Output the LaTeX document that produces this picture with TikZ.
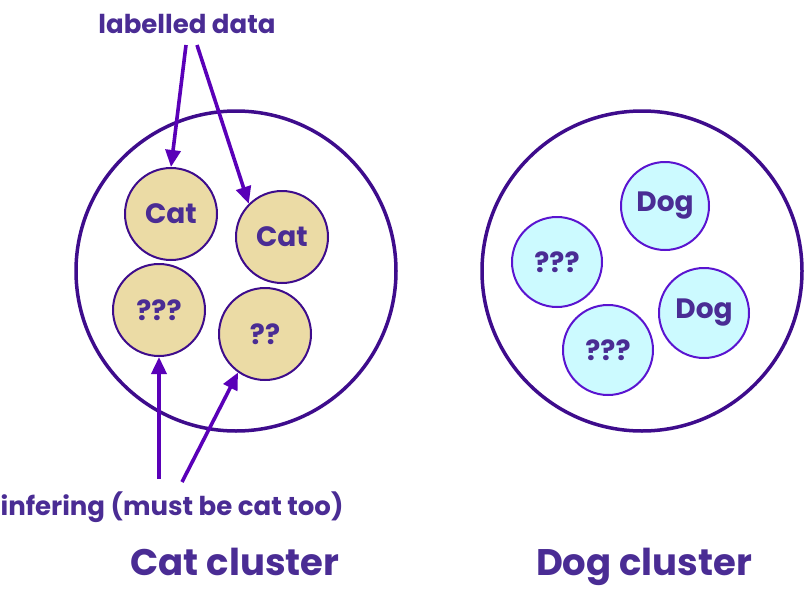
\documentclass[tikz,border=0pt]{standalone}
\usepackage{fontspec}
\setmainfont{Poppins}
\usetikzlibrary{arrows.meta}
\definecolor{txt}{HTML}{4A2C94}
\definecolor{arr}{HTML}{5A00B8}
\definecolor{ring}{HTML}{3E0C8C}
\definecolor{catfill}{HTML}{EBDBA5}
\definecolor{dogfill}{HTML}{CCFAFF}
\definecolor{dogring}{HTML}{5A14D0}
\tikzset{
  big/.style={circle, draw=ring, line width=3.5pt, minimum size=320pt, inner sep=0pt},
  cat/.style={circle, draw=ring, line width=2pt, fill=catfill, minimum size=92pt, inner sep=0pt, font=\bfseries\fontsize{28}{30}\selectfont, text=txt},
  dog/.style={circle, draw=dogring, line width=2pt, fill=dogfill, minimum size=90pt, inner sep=0pt, font=\bfseries\fontsize{28}{30}\selectfont, text=txt},
  lbl/.style={font=\bfseries\fontsize{26}{28}\selectfont, text=txt, inner sep=0pt, anchor=base},
  title/.style={font=\bfseries\fontsize{37}{40}\selectfont, text=txt, inner sep=0pt, anchor=base},
  pointer/.style={draw=arr, line width=3.6pt, -{Triangle[length=17pt,width=15pt]}}
}
\begin{document}
\begin{tikzpicture}[x=1pt,y=-1pt]
\useasboundingbox (0,0) rectangle (804,592);
\node[big] (catc) at (236,271) {};
\node[big] (dogc) at (642,271) {};
\node[cat] (c1) at (171,214) {Cat};
\node[cat] (c2) at (282,237) {Cat};
\node[cat] (c3) at (159,310) {???};
\node[cat] (c4) at (265,334) {??};
\node[dog, minimum size=88pt] (d1) at (665,206) {Dog};
\node[dog] (d2) at (557,262) {???};
\node[dog] (d3) at (704,313) {Dog};
\node[dog] (d4) at (608,350) {???};
\node[lbl] (ld) at (187,33) {labelled data};
\node[lbl] (inf) at (172,515) {infering (must be cat too)};
\node[title] (ct) at (235,575) {Cat cluster};
\node[title] (dt) at (644,575) {Dog cluster};
\coordinate (a1s) at (186,45);
\coordinate (a2s) at (197,45);
\coordinate (b1s) at (159,479);
\coordinate (b2s) at (182,482);
\draw[pointer] (a1s) -- (c1.north);
\draw[pointer] (a2s) -- (c2.135);
\draw[pointer] (b1s) -- (c3.south);
\draw[pointer] (b2s) -- (c4.235);
\end{tikzpicture}
\end{document}
